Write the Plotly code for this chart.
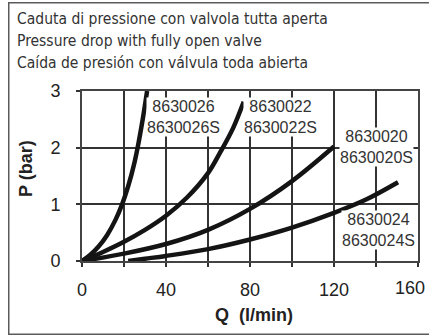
import plotly.graph_objects as go

# Pressure drop curves: flow Q (l/min) vs pressure P (bar)
q_8630026 = [0, 4, 8, 12, 16, 19, 22, 25, 27, 29, 31]
p_8630026 = [0, 0.11, 0.26, 0.46, 0.73, 0.99, 1.32, 1.74, 2.1, 2.52, 3.0]

q_8630022 = [0, 10, 20, 30, 40, 50, 60, 66, 72, 77]
p_8630022 = [0, 0.16, 0.34, 0.55, 0.8, 1.12, 1.55, 1.93, 2.35, 2.81]

q_8630020 = [0, 20, 40, 60, 80, 100, 120]
p_8630020 = [0, 0.13, 0.3, 0.55, 0.92, 1.41, 2.02]

q_8630024 = [22, 30, 40, 60, 80, 100, 120, 135, 150.5]
p_8630024 = [0, 0.04, 0.09, 0.21, 0.38, 0.59, 0.85, 1.08, 1.39]

series = [
    ("8630026", q_8630026, p_8630026),
    ("8630022", q_8630022, p_8630022),
    ("8630020", q_8630020, p_8630020),
    ("8630024", q_8630024, p_8630024),
]

# Curve labels: code, label centre (Q, P)
label_names = ["8630026", "8630022", "8630020", "8630024"]
label_q = [48.1, 94.3, 140.0, 141.0]
label_p = [2.54, 2.54, 2.02, 0.54]

x_ticks = [0, 20, 40, 60, 80, 100, 120, 140, 160]
x_tick_text = ["0", "", "40", "", "80", "", "120", "", ""]
x_last_label = "160"  # set flush with the right edge, see below
y_ticks = [0, 1, 2, 3]

title_lines = [
    "Caduta di pressione con valvola tutta aperta",
    "Pressure drop with fully open valve",
    "Caída de presión con válvula toda abierta",
]

fig = go.Figure()
for name, q, p in series:
    fig.add_trace(go.Scatter(
        x=q, y=p, mode="lines", name=name,
        line=dict(color="#141414", width=4.5, shape="spline", smoothing=1.0),
        hoverinfo="skip", showlegend=False,
    ))

tick_font = dict(family="Liberation Sans, Arial, sans-serif", size=18, color="#222222")

axis_common = dict(
    showgrid=True, gridcolor="#333333", gridwidth=1.5,
    showline=True, linecolor="#444444", linewidth=2, mirror=True,
    ticks="outside", ticklen=4, tickcolor="#333333", tickwidth=1.5,
    tickfont=tick_font, zeroline=False, automargin=False,
)

fig.update_layout(
    template="none",
    xaxis=dict(range=[0, 160], tickmode="array", tickvals=x_ticks,
               ticktext=x_tick_text, ticklabelstandoff=7, **axis_common),
    yaxis=dict(range=[0, 3], dtick=1, tick0=0,
               ticklabelstandoff=12, **axis_common),
)

annotations = []
for name, lq, lp in zip(label_names, label_q, label_p):
    annotations.append(dict(
        x=lq, y=lp, xref="x", yref="y", text=f"{name}<br>{name}S",
        showarrow=False, align="center", xanchor="center", yanchor="middle",
        font=dict(family="Liberation Sans, Arial, sans-serif", size=16, color="#333333"),
        bgcolor="white", borderpad=0,
    ))

# Last x tick label, right-aligned so it stays inside the figure
annotations.append(dict(
    x=x_ticks[-1], y=0, xref="x", yref="y", text=x_last_label,
    showarrow=False, xanchor="right", yanchor="middle", xshift=9, yshift=-27,
    font=tick_font,
))

# Plot area in pixels: x 82..418, y 91..261
W_PLOT, H_PLOT, L, T = 336.0, 170.0, 82.0, 91.0


def px(xp):
    return (xp - L) / W_PLOT


def py(yp):
    return (T + H_PLOT - yp) / H_PLOT


for i, line in enumerate(title_lines):
    annotations.append(dict(
        x=px(15), y=py(19 + 21.8 * i), xref="paper", yref="paper", text=line,
        showarrow=False, xanchor="left", yanchor="middle",
        font=dict(family="Liberation Sans Narrow, DejaVu Sans Condensed, sans-serif",
                  size=15.5, color="#333333"),
    ))

axis_title_font = dict(family="Liberation Sans, Arial, sans-serif", size=18, color="#222222")
annotations.append(dict(
    x=px(254), y=py(315), xref="paper", yref="paper", text="<b>Q  (l/min)</b>",
    showarrow=False, xanchor="center", yanchor="middle", font=axis_title_font,
))
annotations.append(dict(
    x=px(26), y=py(169), xref="paper", yref="paper", text="<b>P (bar)</b>",
    showarrow=False, xanchor="center", yanchor="middle", textangle=-90,
    font=axis_title_font,
))

# Outer frame around the whole card (its right edge runs past the figure)
annotations.append(dict(
    x=px(8), y=py(1.5), xref="paper", yref="paper", text=" ",
    showarrow=False, xanchor="left", yanchor="top",
    width=440, height=330, borderpad=0,
    bordercolor="#5a5a5a", borderwidth=1.5, bgcolor="rgba(0,0,0,0)",
))

fig.update_layout(
    width=429, height=336,
    margin=dict(l=82, r=11, t=91, b=75, autoexpand=False),
    paper_bgcolor="white", plot_bgcolor="white",
    annotations=annotations,
    showlegend=False,
)

fig.write_html("out.html", config={"displayModeBar": False})
